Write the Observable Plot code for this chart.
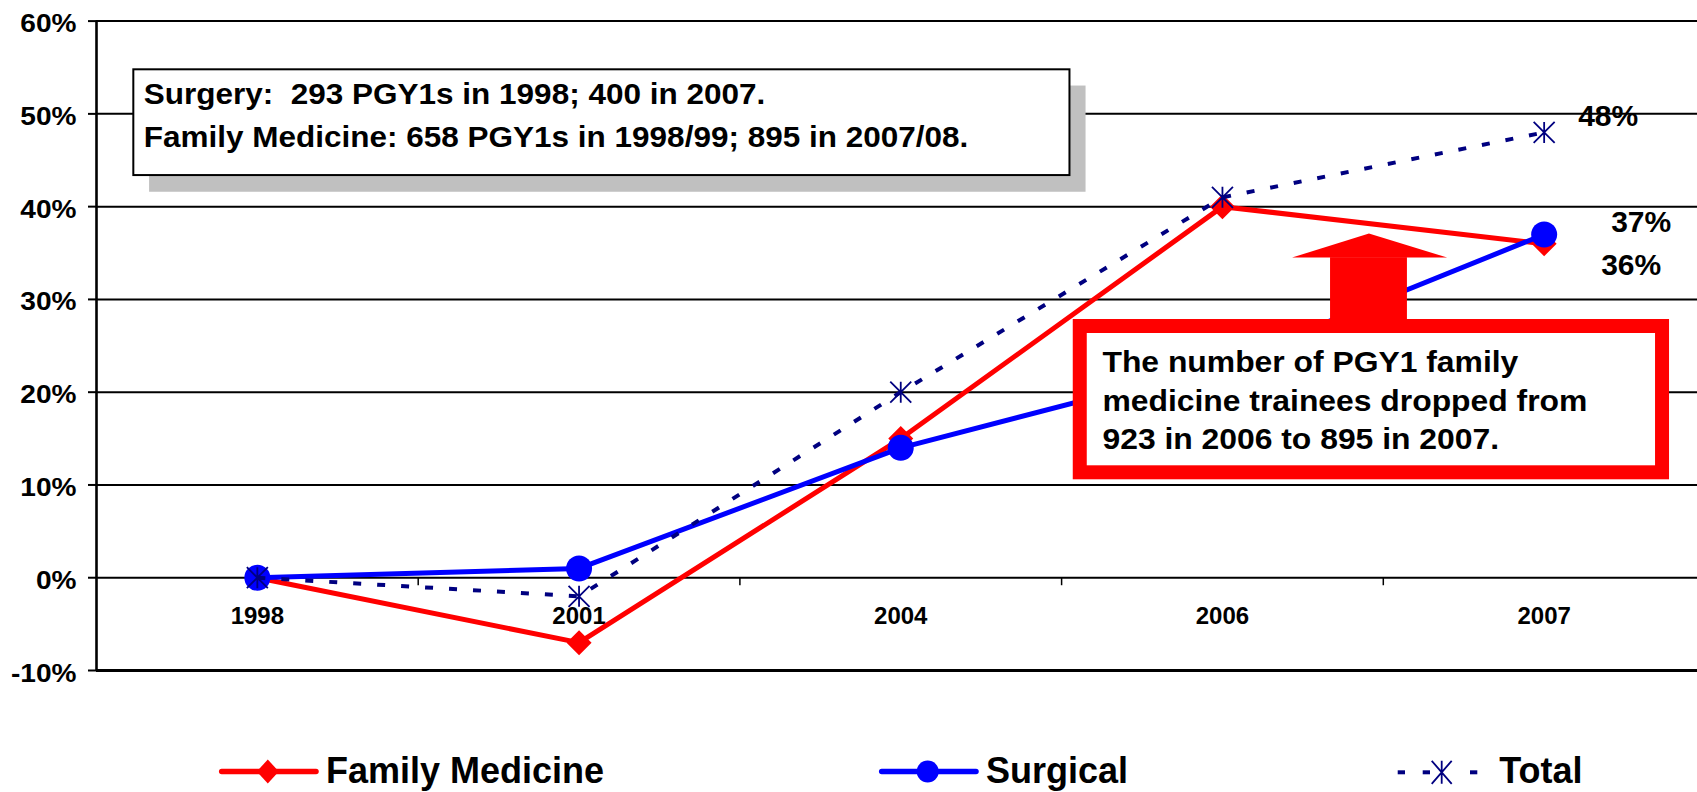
<!DOCTYPE html>
<html>
<head>
<meta charset="utf-8">
<script src="https://cdn.jsdelivr.net/npm/d3@7"></script>
<script src="https://cdn.jsdelivr.net/npm/@observablehq/plot@0.6"></script>
<style>
  html, body { margin: 0; padding: 0; background: #fff; }
  #wrap { width: 1697px; font-family: "Liberation Sans", Arial, sans-serif; }
  #wrap svg text { white-space: pre; }
  #legend svg { display: block; }
</style>
</head>
<body>
<div id="wrap">
  <div id="chart"></div>
  <div id="legend"></div>
</div>
<script>
// ---------- data ----------
const years = ["1998", "2001", "2004", "2006", "2007"];
const familyMedicine = [0, -7, 15, 40, 36];
const surgical = [0, 1, 14, 23, 37];
const total = [0, -2, 20, 41, 48];
const yTicks = [-10, 0, 10, 20, 30, 40, 50, 60];
const seriesNames = ["Family Medicine", "Surgical", "Total"];
const noteLines = [
  "Surgery:  293 PGY1s in 1998; 400 in 2007.",
  "Family Medicine: 658 PGY1s in 1998/99; 895 in 2007/08."
];
const calloutLines = [
  "The number of PGY1 family",
  "medicine trainees dropped from",
  "923 in 2006 to 895 in 2007."
];

// ---------- styles / layout ----------
const FONT = '"Liberation Sans", Arial, sans-serif';
const RED = "#FF0000", BLUE = "#0000FF", NAVY = "#000080";
const X_RANGE = [96, 1704.5];
const Y_RANGE = [670, 20.6];
const pxPerX = (X_RANGE[1] - X_RANGE[0]) / years.length;
const pxPerY = (Y_RANGE[0] - Y_RANGE[1]) / 70;

const rows = vals => years.map((year, i) => ({i, year, v: vals[i]}));
const fm = rows(familyMedicine), sg = rows(surgical), tt = rows(total);
const last = years.length - 1;

// marker symbols (Excel-like)
const diamondSym = {draw(ctx, size) {
  const r = Math.sqrt(size / Math.PI);
  ctx.moveTo(0, -r); ctx.lineTo(r, 0); ctx.lineTo(0, r); ctx.lineTo(-r, 0); ctx.closePath();
}};
const starSym = {draw(ctx, size) {
  const r = Math.sqrt(size / Math.PI);
  ctx.moveTo(0, -r); ctx.lineTo(0, r);
  ctx.moveTo(-r, -r); ctx.lineTo(r, r);
  ctx.moveTo(-r, r); ctx.lineTo(r, -r);
}};

// annotation geometry in chart (data) units
const noteShadow = {x1: -0.335, x2: 2.576, y1: 41.55, y2: 53.0};
const noteBox = {x1: -0.384, x2: 2.526, y1: 43.35, y2: 54.75};
const noteX = -0.353, noteBase = [51.08, 46.41];
const callBox = {x1: 2.558, x2: 4.368, y1: 11.31, y2: 27.08};
const shaft = {x1: 3.336, x2: 3.575, y1: 27.0, y2: 34.5};
const head = [{x: 3.218, y1: 34.46, y2: 34.46}, {x: 3.457, y1: 34.46, y2: 37.05}, {x: 3.700, y1: 34.46, y2: 34.46}];
const callX = 2.627, callBase = [22.15, 18.02, 13.89];

const chart = Plot.plot({
  width: 1697,
  height: 730,
  marginLeft: 96,
  marginRight: 0,
  marginTop: 20,
  marginBottom: 60,
  x: {domain: [-0.5, years.length - 0.5], range: X_RANGE, axis: null},
  y: {domain: [-10, 60], range: Y_RANGE, axis: null},
  style: {fontFamily: FONT, background: "#fff", overflow: "visible", color: "#000"},
  marks: [
    // gridlines
    Plot.ruleY(yTicks.filter(d => d > -10), {y: d => d, stroke: "#000", strokeWidth: 2}),
    Plot.ruleY([-10], {y: d => d, stroke: "#000", strokeWidth: 3}),
    // y axis line + ticks
    Plot.ruleX([-0.5], {x: d => d, y1: -10, y2: 60, stroke: "#000", strokeWidth: 2.6}),
    Plot.ruleY(yTicks, {y: d => d, x1: -0.5, x2: -0.5 - 8 / pxPerX, stroke: "#000", strokeWidth: 2}),
    // category ticks between years
    Plot.ruleX(d3.range(1, years.length).map(i => i - 0.5), {x: d => d, y1: 0, y2: -8 / pxPerY, stroke: "#000", strokeWidth: 1.5}),
    // y labels
    Plot.text(yTicks, {x: -0.5, y: d => d, text: d => `${d}%`, textAnchor: "end", lineAnchor: "bottom",
      dx: -20, dy: 11, fontSize: 26, fontWeight: "bold", fill: "#000", ariaLabel: () => "stretch-y"}),
    // x labels
    Plot.text(years, {x: (d, i) => i, y: 0, text: d => d, lineAnchor: "bottom", dy: 46.6,
      fontSize: 24, fontWeight: "bold", fill: "#000"}),

    // note box with shadow
    Plot.rect([noteShadow], {x1: "x1", x2: "x2", y1: "y1", y2: "y2", fill: "#C0C0C0"}),
    Plot.rect([noteBox], {x1: "x1", x2: "x2", y1: "y1", y2: "y2", fill: "#fff", stroke: "#000", strokeWidth: 2}),
    Plot.text(noteLines, {x: noteX, y: (d, i) => noteBase[i], text: d => d, textAnchor: "start", lineAnchor: "bottom",
      fontSize: 30, fontWeight: "bold", fill: "#000", ariaLabel: () => "stretch-note"}),

    // Family Medicine
    Plot.line(fm, {x: "i", y: "v", stroke: RED, strokeWidth: 5, strokeLinejoin: "round"}),
    Plot.dot(fm, {x: "i", y: "v", symbol: diamondSym, r: 12.5, fill: RED, stroke: "none"}),
    // Surgical
    Plot.line(sg, {x: "i", y: "v", stroke: BLUE, strokeWidth: 5, strokeLinejoin: "round"}),
    Plot.dot(sg, {x: "i", y: "v", r: 13, fill: BLUE, stroke: "none"}),
    // Total
    Plot.line(tt, {x: "i", y: "v", stroke: NAVY, strokeWidth: 4, strokeDasharray: "8,16", strokeLinecap: "butt"}),
    Plot.dot(tt, {x: "i", y: "v", symbol: starSym, r: 10.5, fill: "none", stroke: NAVY, strokeWidth: 1.8}),

    // value labels at 2007
    Plot.text([tt[last]], {x: "i", y: "v", text: d => `${d.v}%`, textAnchor: "start", lineAnchor: "bottom",
      dx: 34, dy: -6, fontSize: 30, fontWeight: "bold", fill: "#000"}),
    Plot.text([sg[last]], {x: "i", y: "v", text: d => `${d.v}%`, textAnchor: "start", lineAnchor: "bottom",
      dx: 67, dy: -2.3, fontSize: 30, fontWeight: "bold", fill: "#000"}),
    Plot.text([fm[last]], {x: "i", y: "v", text: d => `${d.v}%`, textAnchor: "start", lineAnchor: "bottom",
      dx: 57, dy: 30.8, fontSize: 30, fontWeight: "bold", fill: "#000"}),

    // callout arrow + box
    Plot.rect([shaft], {x1: "x1", x2: "x2", y1: "y1", y2: "y2", fill: RED}),
    Plot.areaY(head, {x: "x", y1: "y1", y2: "y2", fill: RED, curve: "linear"}),
    Plot.rect([callBox], {x1: "x1", x2: "x2", y1: "y1", y2: "y2", fill: "#fff", stroke: RED, strokeWidth: 14}),
    Plot.text(calloutLines, {x: callX, y: (d, i) => callBase[i], text: d => d, textAnchor: "start", lineAnchor: "bottom",
      fontSize: 29.5, fontWeight: "bold", fill: "#000", ariaLabel: () => "stretch-call"})
  ]
});

// horizontal stretch of some texts (the original's type is slightly widened)
const stretch = {"stretch-y": 1.08, "stretch-note": 1.05, "stretch-call": 1.08};
for (const [label, s] of Object.entries(stretch)) {
  chart.querySelectorAll(`text[aria-label="${label}"]`).forEach(t => {
    const tr = t.getAttribute("transform") || "";
    const x = +(t.getAttribute("x") || 0);
    t.setAttribute("transform", `${tr} translate(${x},0) scale(${s},1) translate(${-x},0)`);
  });
}
document.getElementById("chart").appendChild(chart);

// ---------- legend (below the chart) ----------
const legendItems = [
  {name: seriesNames[0], color: RED, kind: "diamond", line: [221.7, 316], mark: 267.8, textX: 326},
  {name: seriesNames[1], color: BLUE, kind: "circle", line: [881.7, 976], mark: 927.7, textX: 986},
  {name: seriesNames[2], color: NAVY, kind: "star", dashes: [[1397.7, 1405], [1422.7, 1430], [1470, 1477.3]], mark: 1441.7, textX: 1499.3}
];
const lg = d3.select("#legend").append("svg").attr("width", 1697).attr("height", 62)
  .attr("font-family", FONT);
for (const it of legendItems) {
  const g = lg.append("g");
  const cy = 41.5;
  if (it.line) {
    g.append("line").attr("x1", it.line[0]).attr("x2", it.line[1]).attr("y1", cy).attr("y2", cy)
      .attr("stroke", it.color).attr("stroke-width", 5.5).attr("stroke-linecap", "round");
  }
  if (it.dashes) {
    for (const [a, b] of it.dashes) {
      g.append("line").attr("x1", a).attr("x2", b).attr("y1", cy + 0.8).attr("y2", cy + 0.8)
        .attr("stroke", it.color).attr("stroke-width", 4);
    }
  }
  if (it.kind === "diamond") {
    g.append("path").attr("d", `M${it.mark},${cy - 12}L${it.mark + 11},${cy}L${it.mark},${cy + 12}L${it.mark - 11},${cy}Z`)
      .attr("fill", it.color);
  } else if (it.kind === "circle") {
    g.append("circle").attr("cx", it.mark).attr("cy", cy).attr("r", 11).attr("fill", it.color);
  } else {
    const c = cy + 0.8, w = 10, h = 11.5;
    g.append("path").attr("d", `M${it.mark},${c - h}V${c + h}M${it.mark - w},${c - h}L${it.mark + w},${c + h}M${it.mark - w},${c + h}L${it.mark + w},${c - h}`)
      .attr("stroke", it.color).attr("stroke-width", 1.8).attr("fill", "none");
  }
  g.append("text").attr("x", it.textX).attr("y", 53).attr("font-size", 36).attr("font-weight", "bold")
    .attr("fill", "#000").text(it.name);
}
</script>
</body>
</html>
